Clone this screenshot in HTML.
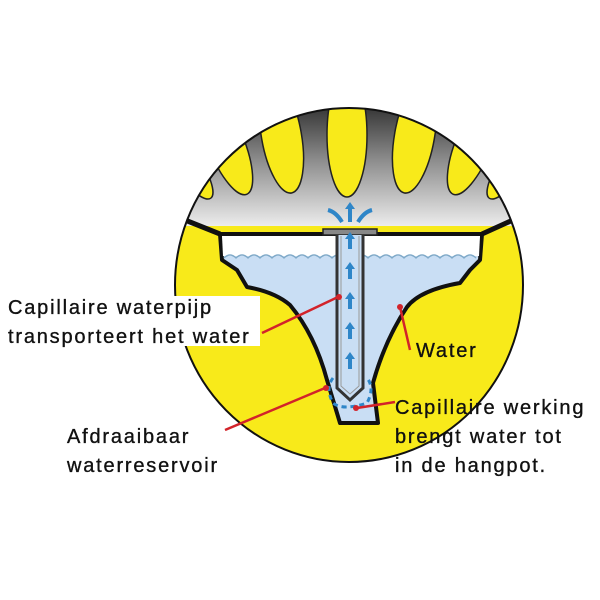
<!DOCTYPE html>
<html><head><meta charset="utf-8"><style>
html,body{margin:0;padding:0;background:#fff;width:600px;height:600px;overflow:hidden}
svg{display:block}
text{font-family:"Liberation Sans",Arial,sans-serif;font-size:20px;letter-spacing:1.8px;fill:#111;stroke:#111;stroke-width:0.35}
</style></head><body>
<svg width="600" height="600" viewBox="0 0 600 600">
<defs>
<linearGradient id="g" x1="0" y1="0" x2="0" y2="1">
<stop offset="0" stop-color="#2a2a2a"/><stop offset="0.45" stop-color="#8a8a8a"/><stop offset="1" stop-color="#f2f2f2"/>
</linearGradient>
<clipPath id="c"><ellipse cx="349" cy="285" rx="174" ry="177"/></clipPath>
</defs>
<ellipse cx="349" cy="285" rx="174" ry="177" fill="#f8ea1a"/>
<g clip-path="url(#c)">
<rect x="170" y="100" width="360" height="130" fill="url(#g)"/>
<g fill="#f8ea1a" stroke="#222" stroke-width="1.5">
<ellipse cx="205" cy="150" rx="14" ry="50" transform="rotate(-35 205 190)"/>
<ellipse cx="243" cy="140" rx="18" ry="55" transform="rotate(-22 243 185)"/>
<ellipse cx="291" cy="135" rx="20" ry="58" transform="rotate(-10 291 190)"/>
<ellipse cx="347" cy="135" rx="20" ry="62"/>
<ellipse cx="405" cy="135" rx="20" ry="58" transform="rotate(10 405 190)"/>
<ellipse cx="457" cy="140" rx="18" ry="55" transform="rotate(22 457 185)"/>
<ellipse cx="495" cy="150" rx="14" ry="50" transform="rotate(35 495 190)"/>
</g>
<rect x="170" y="226" width="360" height="250" fill="#f8ea1a"/>
<path d="M165 212 L220 234 M482 234 L535 210" stroke="#111" stroke-width="5" fill="none"/>
<path d="M220 234 L482 234 L480 260 L470 270 L460 283 Q420 290 407 307 Q385 340 373 383 L378 423 L340 423 L327 380 Q315 335 290 305 Q275 292 247 287 L237 270 L222 260 Z" fill="#c9def4" stroke="#111" stroke-width="4" stroke-linejoin="round"/>
<path d="M222 236 L480 236 L479 256 L223 256 Z" fill="#fff"/>
<path d="M224 258 q6 -6 12 0 q6 -6 12 0 q6 -6 12 0 q6 -6 12 0 q6 -6 12 0 q6 -6 12 0 q6 -6 12 0 q6 -6 12 0 q6 -6 12 0 q6 -6 12 0 q6 -6 12 0 q6 -6 12 0 q6 -6 12 0 q6 -6 12 0 q6 -6 12 0 q6 -6 12 0 q6 -6 12 0 q6 -6 12 0 q6 -6 12 0 q6 -6 12 0 q6 -6 12 0" fill="none" stroke="#7fa9c8" stroke-width="1.3"/>
<rect x="323" y="229" width="54" height="6" fill="#888" stroke="#222" stroke-width="1.5"/>
<path d="M337 235 L337 388 L350 400 L363 388 L363 235" fill="#c9def4" stroke="#333" stroke-width="3"/>
<path d="M341 236 L341 386 L350 394 L359 386 L359 236" fill="none" stroke="#999" stroke-width="1"/>
<g fill="#2f86c8">
<path d="M350 202 l-5 7 h3 v13 h4 v-13 h3 z"/>
<path d="M350 232 l-5 7 h3 v10 h4 v-10 h3 z"/>
<path d="M350 262 l-5 7 h3 v10 h4 v-10 h3 z"/>
<path d="M350 292 l-5 7 h3 v10 h4 v-10 h3 z"/>
<path d="M350 322 l-5 7 h3 v10 h4 v-10 h3 z"/>
<path d="M350 352 l-5 7 h3 v10 h4 v-10 h3 z"/>
</g>
<path d="M342 222 Q336 212 328 210 M358 222 Q364 212 372 210" stroke="#2f86c8" stroke-width="4" fill="none"/>
<path d="M333 378 q-8 10 0 25 q10 8 34 0 q8 -15 0 -25" fill="none" stroke="#2f86c8" stroke-width="3" stroke-dasharray="5 4"/>
</g>
<ellipse cx="349" cy="285" rx="174" ry="177" fill="none" stroke="#111" stroke-width="2"/>
<rect x="0" y="296" width="260" height="50" fill="#fff"/>
<g stroke="#d2232a" stroke-width="2.5" fill="none">
<path d="M262 333 L338 297"/>
<path d="M400 307 L410 350"/>
<path d="M225 430 L325 388"/>
<path d="M357 408 L395 402"/>
</g>
<g fill="#d2232a"><circle cx="339" cy="297" r="3"/><circle cx="400" cy="307" r="3"/><circle cx="326" cy="388" r="3"/><circle cx="356" cy="408" r="3"/></g>
<text x="8" y="314">Capillaire waterpijp</text>
<text x="8" y="343">transporteert het water</text>
<text x="416" y="357">Water</text>
<text x="395" y="414">Capillaire werking</text>
<text x="395" y="443">brengt water tot</text>
<text x="395" y="472">in de hangpot.</text>
<text x="67" y="443">Afdraaibaar</text>
<text x="67" y="472">waterreservoir</text>
</svg>
</body></html>
